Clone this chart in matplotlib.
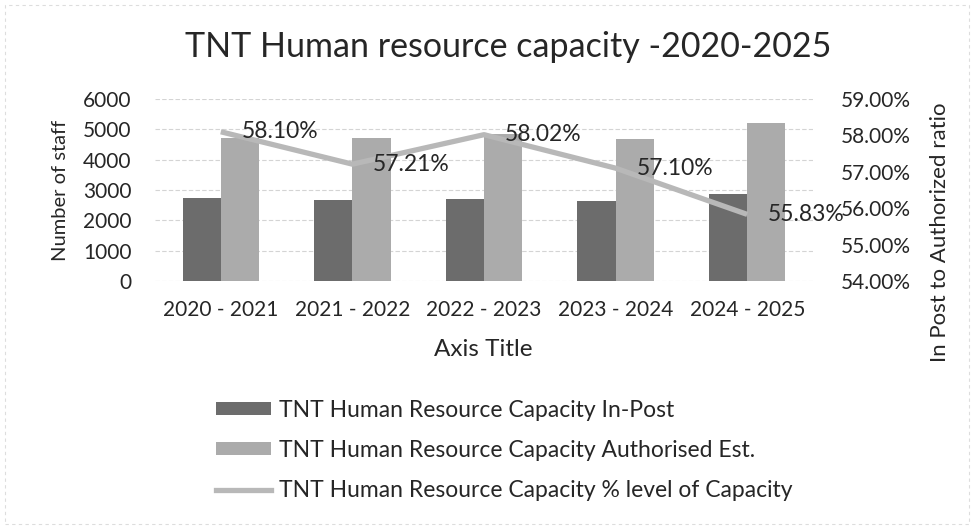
import matplotlib
matplotlib.use("Agg")
import matplotlib.pyplot as plt
import numpy as np
from matplotlib.patches import Patch, Rectangle
from matplotlib.lines import Line2D

plt.rcParams['font.family'] = ['Lato', 'DejaVu Sans']

categories = ["2020 - 2021", "2021 - 2022", "2022 - 2023", "2023 - 2024", "2024 - 2025"]
in_post = [2750, 2660, 2700, 2640, 2860]
authorised = [4730, 4700, 4840, 4680, 5200]
pct_capacity = [58.10, 57.21, 58.02, 57.10, 55.83]
left_ticks = [0, 1000, 2000, 3000, 4000, 5000, 6000]
right_ticks = [54.0, 55.0, 56.0, 57.0, 58.0, 59.0]

series_names = ["TNT Human Resource Capacity In-Post",
                "TNT Human Resource Capacity Authorised Est.",
                "TNT Human Resource Capacity % level of Capacity"]

W, H = 974, 529
fig = plt.figure(figsize=(W / 100, H / 100), dpi=100)
fig.patch.set_facecolor("white")

# faint chart border
fig.add_artist(Rectangle((5 / W, 1 - 524 / H), 964 / W, 519 / H, transform=fig.transFigure,
                         fill=False, edgecolor="#dddddd", lw=0.8, ls=(0, (3, 3))))

ax = fig.add_axes([155 / W, 1 - 281 / H, (813 - 155) / W, (281 - 99) / H])
ax2 = ax.twinx()

c_in = "#6c6c6c"
c_auth = "#ababab"
c_line = "#b8b8b8"
txt = "#262626"
fs = 15

x = np.arange(len(categories))
bw = 0.29
ax.bar(x - bw / 2, in_post, bw, color=c_in, zorder=2)
ax.bar(x + bw / 2, authorised, bw, color=c_auth, zorder=2)

ax.set_xlim(-0.5, len(categories) - 0.5)
ax.set_ylim(0, 6000)
ax.set_yticks(left_ticks)
ax.set_yticklabels([str(t) for t in left_ticks])
ax.set_xticks(x)
ax.set_xticklabels(categories)
ax.yaxis.grid(True, color="#d4d4d4", lw=0.8, ls=(0, (4, 2)), zorder=0)
ax.set_axisbelow(True)
for s in ax.spines.values():
    s.set_visible(False)
for s in ax2.spines.values():
    s.set_visible(False)
ax.tick_params(axis="both", length=0, labelsize=fs, colors=txt)
ax.tick_params(axis="y", pad=17)
ax.tick_params(axis="x", pad=14)

pvals = [p / 100 for p in pct_capacity]
ax2.plot(x, pvals, color=c_line, lw=3.8, zorder=3, solid_capstyle="butt")
ax2.set_ylim(right_ticks[0] / 100, right_ticks[-1] / 100)
ax2.set_yticks([t / 100 for t in right_ticks])
ax2.set_yticklabels([f"{t:.2f}%" for t in right_ticks])
ax2.tick_params(axis="y", length=0, labelsize=fs, colors=txt, pad=20)
for xi, p in zip(x, pct_capacity):
    ax2.annotate(f"{p:.2f}%", (xi, p / 100), xytext=(15, 0), textcoords="offset points",
                 ha="left", va="center", fontsize=16.5, color=txt, zorder=4)

fig.text(508 / W, 1 - 47 / H, "TNT Human resource capacity -2020-2025", ha="center", va="center",
         fontsize=24.5, color=txt)
fig.text(483 / W, 1 - 349 / H, "Axis Title", ha="center", va="center", fontsize=17.5, color=txt)
fig.text(60 / W, 1 - 190 / H, "Number of staff", ha="center", va="center", rotation=90,
         fontsize=14.5, color=txt)
fig.text(940 / W, 1 - 232 / H, "In Post to Authorized ratio", ha="center", va="center",
         rotation=90, fontsize=16, color=txt)

handles = [Patch(facecolor=c_in), Patch(facecolor=c_auth),
           Line2D([0], [0], color=c_line, lw=3.8)]
leg = fig.legend(handles, series_names, loc="upper left", bbox_to_anchor=(216 / W, 1 - 400 / H),
                 frameon=False, fontsize=16.5, labelcolor=txt, handlelength=2.4, handleheight=0.5,
                 handletextpad=0.35, labelspacing=0.83, borderpad=0, borderaxespad=0)

fig.savefig("out.png", dpi=100, facecolor="white")
